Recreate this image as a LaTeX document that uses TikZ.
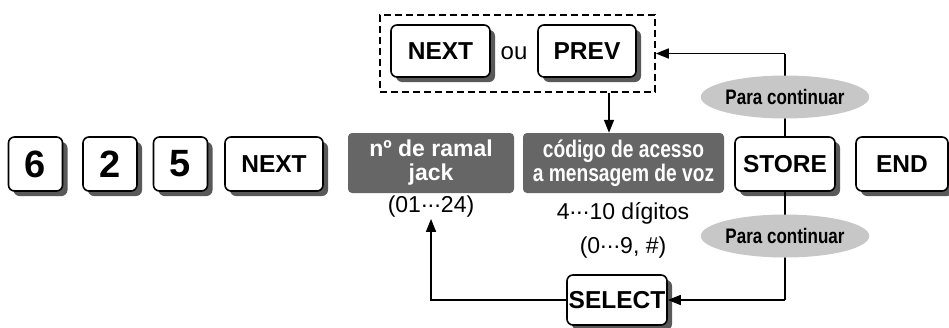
\documentclass[tikz,border=0pt]{standalone}
\usepackage{fontspec}
\setmainfont{Liberation Sans}
\newfontfamily\narrowfont[FakeStretch=0.81]{Liberation Sans}
\newfontfamily\gnarrowfont[FakeStretch=0.8]{Liberation Sans}
\usetikzlibrary{arrows.meta,shadows,shapes.geometric}
\newcommand{\dotsmid}{\kern-0.5pt·\kern-1pt·\kern-1pt·\kern-0.5pt}
\tikzset{
 key/.style={draw=black, line width=1.6pt, fill=white, rounded corners=6pt, inner sep=0pt,
   font=\fontsize{24.5}{26}\selectfont\bfseries, minimum height=54pt,
   drop shadow={shadow xshift=5pt, shadow yshift=-5pt, fill=black!65, opacity=1}},
 digit/.style={key, font=\fontsize{38}{40}\selectfont\bfseries, minimum width=54pt},
 gbox/.style={fill=black!60, rounded corners=4pt, text=white, font=\fontsize{23}{24}\selectfont\bfseries,
   align=center, inner sep=0pt, minimum height=60pt},
 lbl/.style={font=\fontsize{23}{25}\selectfont, align=center, inner sep=1pt},
 oval/.style={ellipse, fill=black!22, inner sep=0pt, minimum width=144pt, minimum height=43pt,
   font=\narrowfont\fontsize{21}{22}\selectfont\bfseries},
 conn/.style={line width=1.6pt},
 arr/.style={conn, -{Triangle[length=13pt,width=10pt]}},
}
\begin{document}
\begin{tikzpicture}[x=1pt,y=-1pt]
\useasboundingbox (0,0) rectangle (949,327);
% left keys
\node[digit] (k6) at (35.5,164) {6};
\node[digit] (k2) at (110,164) {2};
\node[digit] (k5) at (180.5,164) {5};
\node[key, minimum width=98pt] (kn) at (274,164) {NEXT};
% dashed group
\node[draw, dashed, line width=1.6pt, dash pattern=on 7pt off 4pt, minimum width=275pt, minimum height=77pt, inner sep=0pt] (grp) at (517.5,53.5) {};
\node[key, minimum width=99pt, minimum height=52pt] (nx2) at (440.5,51) {NEXT};
\node[font=\fontsize{24}{26}\selectfont, inner sep=0pt] (ou) at (514,53) {ou};
\node[key, minimum width=98pt, minimum height=52pt] (prev) at (587,51) {PREV};
% gray boxes
\node[gbox, minimum width=166pt] (g1) at (431,163) {nº de ramal\\jack};
\node[gbox, minimum width=201pt, font=\gnarrowfont\fontsize{24}{24}\selectfont\bfseries] (g2) at (623.5,163) {código de acesso\\a mensagem de voz};
\node[lbl] (r1) at (431,207) {(01\dotsmid24)};
\node[lbl] (r2) at (623,213) {4\dotsmid10 dígitos};
\node[lbl] (r3) at (623,248) {(0\dotsmid9, \#)};
% right
\node[key, minimum width=100pt] (store) at (785,164) {STORE};
\node[key, minimum width=92pt] (end) at (902,164) {END};
\node[key, minimum width=100pt, minimum height=50pt] (sel) at (617,300) {SELECT};
% connectors
\coordinate (dn) at (609,0);
\draw[conn] (store.north) -- (store.north |- grp.east) coordinate (tr);
\draw[arr] (tr) -- (grp.east);
\draw[conn] (store.south) -- (store.south |- sel.east) coordinate (br);
\draw[arr] (br) -- (sel.east);
\draw[arr] (grp.south -| dn) -- (g2.north -| dn);
\draw[arr] (sel.west) -| (r1.south);
\node[oval] (o1) at (785,97) {Para continuar};
\node[oval] (o2) at (785,236) {Para continuar};
\end{tikzpicture}
\end{document}
